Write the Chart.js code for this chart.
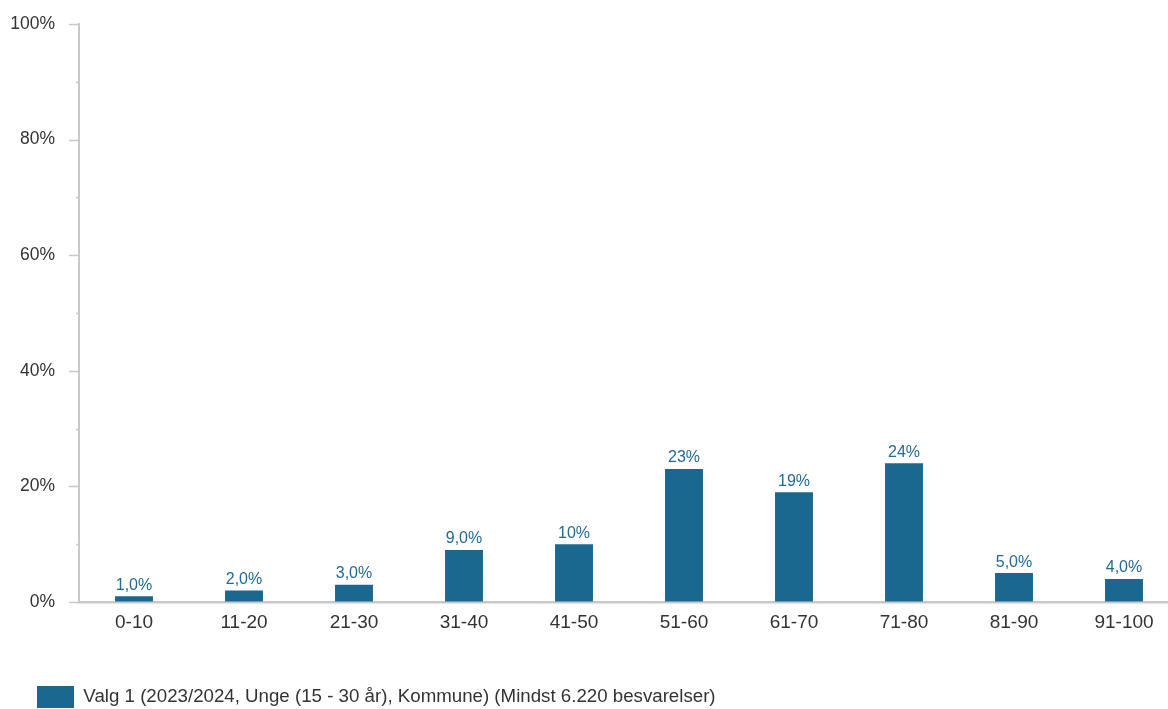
<!DOCTYPE html>
<html>
<head>
<meta charset="utf-8">
<script src="https://cdn.jsdelivr.net/npm/chart.js@4.4.1/dist/chart.umd.min.js"></script>
<style>
  html, body { margin: 0; padding: 0; background: #fff; overflow: hidden; }
  #wrap { position: relative; width: 1180px; height: 718px; }
</style>
</head>
<body>
<div id="wrap"><canvas id="c"></canvas></div>
<script>
const categories = ['0-10', '11-20', '21-30', '31-40', '41-50', '51-60', '61-70', '71-80', '81-90', '91-100'];
const values = [1, 2, 3, 9, 10, 23, 19, 24, 5, 4];
const valueLabels = ['1,0%', '2,0%', '3,0%', '9,0%', '10%', '23%', '19%', '24%', '5,0%', '4,0%'];
const seriesName = 'Valg 1 (2023/2024, Unge (15 - 30 år), Kommune) (Mindst 6.220 besvarelser)';
const yMin = 0, yMax = 100, yStep = 10, yLabelStep = 20;

const FONT = '"Liberation Sans", Arial, sans-serif';
const BAR = '#1a6890';
const AXIS = '#c8c8c8';

const valueLabelPlugin = {
  id: 'valueLabels',
  afterDatasetsDraw(chart) {
    const ctx = chart.ctx;
    const meta = chart.getDatasetMeta(0);
    ctx.save();
    ctx.font = '16px ' + FONT;
    ctx.fillStyle = '#1f6a92';
    ctx.textAlign = 'center';
    ctx.textBaseline = 'bottom';
    meta.data.forEach((bar, i) => {
      ctx.fillText(valueLabels[i], bar.x, bar.y - 3);
    });
    ctx.restore();
  }
};

const tickMarkPlugin = {
  id: 'tickMarks',
  afterDraw(chart) {
    const y = chart.scales.y;
    const ctx = chart.ctx;
    const x0 = y.right;
    ctx.save();
    ctx.strokeStyle = AXIS;
    ctx.lineWidth = 1.5;
    for (let v = yMin; v <= yMax; v += yStep) {
      const py = Math.round(y.getPixelForValue(v)) + 0.5;
      const len = (v % yLabelStep === 0) ? 10 : 3;
      ctx.beginPath();
      ctx.moveTo(x0 - len, py);
      ctx.lineTo(x0, py);
      ctx.stroke();
    }
    ctx.restore();
  }
};

new Chart(document.getElementById('c'), {
  type: 'bar',
  data: {
    labels: categories,
    datasets: [{
      label: seriesName,
      data: values,
      backgroundColor: BAR,
      borderWidth: 0,
      barPercentage: 0.345,
      categoryPercentage: 1.0
    }]
  },
  options: {
    responsive: true,
    maintainAspectRatio: false,
    animation: false,
    layout: { padding: { left: 10, right: 1, top: 24, bottom: 0 } },
    plugins: {
      legend: {
        position: 'bottom',
        align: 'start',
        labels: {
          boxWidth: 37,
          boxHeight: 22,
          padding: 27,
          color: '#333',
          font: { family: FONT, size: 18.7 }
        }
      },
      tooltip: { enabled: false }
    },
    scales: {
      x: {
        afterFit(s) { s.height = 57; },
        grid: { display: true, drawOnChartArea: false, drawTicks: false },
        border: { display: true, color: AXIS, width: 2.5 },
        ticks: { color: '#333', font: { family: FONT, size: 19 }, padding: 9, maxRotation: 0 }
      },
      y: {
        min: yMin,
        max: yMax,
        afterFit(s) { s.width = 69; s.paddingTop = 0; s.paddingBottom = 0; },
        grid: { display: true, drawOnChartArea: false, drawTicks: false },
        border: { display: true, color: AXIS, width: 2 },
        ticks: {
          stepSize: yStep,
          color: '#333',
          padding: 24,
          font: { family: FONT, size: 17.5 },
          callback: (v) => (v % yLabelStep === 0 ? v + '%' : '')
        }
      }
    }
  },
  plugins: [valueLabelPlugin, tickMarkPlugin]
});
</script>
</body>
</html>
